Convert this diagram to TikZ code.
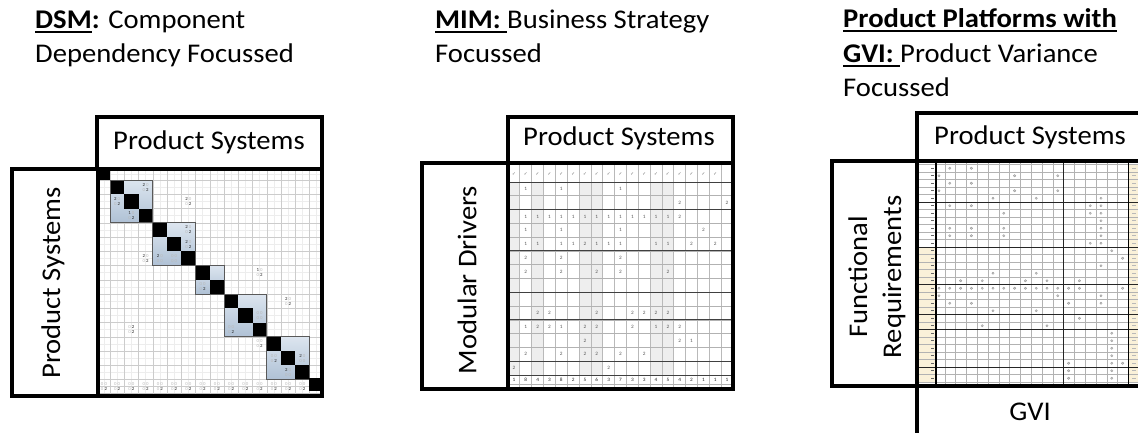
\documentclass[tikz,border=0pt]{standalone}
\usepackage{fontspec}
\setmainfont{Carlito}[FakeStretch=1.06]
\newfontfamily\tickfont{DejaVu Sans}
\usetikzlibrary{positioning}
\definecolor{blocklight}{HTML}{DCE5EF}
\definecolor{blockdark}{HTML}{AFC1D5}
\definecolor{cream}{HTML}{FAF1D9}
\newcommand{\ulbf}[1]{\setbox0\hbox{\textbf{#1}}\rlap{\rule[-4pt]{\wd0}{1.6pt}}\box0}
\newcommand{\dg}[1]{\ifnum#1=0 \textcolor{gray!55}{0}\else\textcolor{black!85}{#1}\fi}
\tikzset{
  heading/.style={anchor=base west, inner sep=0pt, font=\fontsize{27}{34}\selectfont},
  boxlabel/.style={font=\fontsize{27}{34}\selectfont, align=center, inner sep=0pt},
  thickbox/.style={line width=3.3pt},
  dsmnum/.style={font=\fontsize{4.6}{4.8}\selectfont, align=center, inner sep=0pt},
  mimnum/.style={font=\fontsize{5}{6}\selectfont, text=black!65, inner sep=0pt},
  mimtick/.style={font=\tickfont\fontsize{4.5}{5}\selectfont, text=black!60, inner sep=0pt},
}
\begin{document}
\begin{tikzpicture}[x=1pt,y=-1pt]
\useasboundingbox (0,0) rectangle (1138,433);
\clip (0,0) rectangle (1138,433);

% headings
\node[heading] (dsmtitle) at (35,29) {\ulbf{DSM}\textbf{:} Component};
\node[heading] (dsmtitleb) at (35,63) {Dependency Focussed};
\node[heading] (mimtitle) at (435,29) {\ulbf{MIM:\ }Business Strategy};
\node[heading] (mimtitleb) at (435,63) {Focussed};
\node[heading] (gvititle) at (843,28) {\ulbf{Product Platforms with}};
\node[heading] (gvititleb) at (843,63) {\ulbf{GVI:\ }Product Variance};
\node[heading] (gvititlec) at (843,97) {Focussed};

%%% DSM
\def\dx{14.25}
\foreach \i in {0,...,28} {
  \draw[gray!14, line width=0.3pt] ({110+7.125*\i},169) -- ({110+7.125*\i},396);
  \draw[gray!14, line width=0.3pt] (98,{180+7.125*\i}) -- (322,{180+7.125*\i});
}
\draw[gray!14, line width=0.3pt] (104,169) -- (104,396);
\draw[gray!14, line width=0.3pt] (316,169) -- (316,396);
\draw[gray!14, line width=0.3pt] (98,174.5) -- (322,174.5);
\draw[gray!40, line width=0.5pt] (98,386.25) -- (322,386.25);
\draw[gray!50, line width=0.5pt] (98,393) -- (322,393);
\foreach \i in {0,...,14} {
  \draw[gray!40, line width=0.5pt] ({110+\dx*\i},169) -- ({110+\dx*\i},396);
  \draw[gray!40, line width=0.5pt] (98,{180+\dx*\i}) -- (322,{180+\dx*\i});
}
\foreach \s/\n in {0/3,3/3,6/2,8/3,11/3}
  \shade[top color=blocklight, bottom color=blockdark] ({110+\s*\dx},{180+\s*\dx}) rectangle ++({\n*\dx},{\n*\dx});
\foreach \k in {0,...,13}
  \fill ({110+\k*\dx},{180+\k*\dx}) rectangle ++(\dx,\dx);
\foreach \s/\n in {0/3,3/3,6/2,8/3,11/3}
  \draw[black!65, line width=0.8pt] ({110+\s*\dx},{180+\s*\dx}) rectangle ++({\n*\dx},{\n*\dx});
\fill (96,167) rectangle (110,180);
\fill (309,378) rectangle (321,391);
\foreach \cx/\ry/\pa/\pb/\pc/\pd in {2/0/2/0/0/2, 0/1/2/0/0/2, 1/2/1/0/0/2, 5/1/2/0/0/2,
    5/3/2/0/0/2, 5/4/2/0/0/2, 3/5/2/0/0/0, 4/5/0/0/0/0, 2/5/2/0/0/2, 6/7/0/0/0/2,
    10/6/1/0/0/2, 10/9/0/0/0/0, 8/10/0/0/0/2, 12/8/2/0/0/2, 1/10/0/2/0/2,
    10/11/0/0/0/2, 11/12/0/0/0/2, 13/12/2/0/0/0, 12/13/2/0/0/0}
  \node[dsmnum] (dsm-\cx-\ry) at ({110+(\cx+0.5)*\dx},{180+(\ry+0.5)*\dx}) {\dg\pa\ \dg\pb\\\dg\pc\ \dg\pd};
\node[dsmnum] (dsmsum-h) at (104,386.3) {\dg0\ \dg0\\\dg0\ \dg2};
\foreach \k in {0,...,13}
  \node[dsmnum] (dsmsum-\k) at ({110+(\k+0.5)*\dx},386.3) {\dg0\ \dg0\\\dg0\ \dg2};
\draw[thickbox] (97,117) rectangle (322,169);
\draw[thickbox] (12,169) rectangle (98,396);
\draw[thickbox] (98,169) rectangle (322,396);
\node[boxlabel] (dsmtop) at (209,142) {Product Systems};
\node[boxlabel, rotate=90] (dsmleft) at (53,283) {Product Systems};

%%% MIM
\def\mx{11.842}
\def\my{13.79}
\foreach \k in {0,2,6,7,12,13}
  \fill[gray!13] ({508+\k*\mx},182) rectangle ++(\mx,193);
\foreach \k in {1,...,18}
  \draw[gray!55, line width=0.8pt] ({508+\k*\mx},163) -- ({508+\k*\mx},389);
\foreach \j in {0,...,14}
  \draw[gray!60, line width=0.6pt] (508,{182+\j*\my}) -- (733,{182+\j*\my});
\foreach \j in {0,2,5,8,10,13,14}
  \draw[black!75, line width=1pt] (508,{182+\j*\my}) -- (733,{182+\j*\my});
\draw[gray!60, line width=0.6pt] (508,384) -- (733,384);
\foreach \k in {0,...,17}
  \node[mimtick] (tick-\k) at ({508+(\k+0.5)*\mx},174) {✓};
\foreach \ry/\vals in {0/{1/1,4/1,9/1}, 1/{14/2,18/2},
    2/{1/1,2/1,3/1,4/1,5/1,6/1,7/1,8/1,9/1,10/1,11/1,12/1,13/1,14/2},
    3/{1/1,4/1,9/1,16/2},
    4/{1/1,2/1,4/1,5/1,6/2,7/1,8/1,9/1,12/1,13/1,15/2,17/2},
    5/{1/2,4/2,9/2}, 6/{1/2,4/2,7/2,9/2,13/2},
    9/{2/2,3/2,7/2,10/2,11/2,12/2,13/2},
    10/{1/1,2/2,3/2,4/1,6/2,7/2,10/2,12/1,13/2,14/2},
    11/{6/2,14/2,15/1}, 12/{1/2,4/2,6/2,7/2,9/2,11/2}, 13/{0/2,8/2}}
  \foreach \cx/\v in \vals
    \node[mimnum] (mim-\cx-\ry) at ({508+(\cx+0.5)*\mx},{182+(\ry+0.5)*\my}) {\v};
\foreach \v [count=\k from 0] in {1,8,4,3,8,2,5,6,3,7,3,3,4,5,4,2,1,1,1}
  \node[mimnum, text=black!85] (mimsum-\k) at ({508+(\k+0.5)*\mx},379.5) {\v};
\draw[thickbox] (508,117) rectangle (733,163);
\draw[thickbox] (422,163) rectangle (508,389);
\draw[thickbox] (508,163) rectangle (733,389);
\node[boxlabel] (mimtop) at (619,138) {Product Systems};
\node[boxlabel, rotate=90] (mimleft) at (467,280) {Modular Drivers};

%%% GVI
\def\gx{10.8}
\def\gy{7.5}
\fill[cream] (919,247) rectangle (936,382);
\fill[cream] (1128.4,164.5) rectangle (1145,382);
\foreach \j in {0,...,29}
  \draw[gray!60, line width=0.5pt] (919,{164.5+\gy*\j}) -- (1145,{164.5+\gy*\j});
\foreach \k in {1,...,17}
  \draw[gray!60, line width=0.6pt] ({934+\gx*\k},161) -- ({934+\gx*\k},386);
\foreach \j in {5,11,16,20,22,27}
  \draw[black!85, line width=1pt] (919,{164.5+\gy*\j}) -- (1145,{164.5+\gy*\j});
\draw[black!85, line width=1pt] ({934+\gx*12},161) -- ({934+\gx*12},386);
\draw[black, line width=1.3pt] (936,161) -- (936,386);
\draw[black, line width=1.3pt] (1128.4,161) -- (1128.4,386);
\foreach \j in {0,...,28} {
  \draw[black!60, line width=0.7pt] (931,{168.25+\gy*\j}) -- (933.5,{168.25+\gy*\j});
  \fill[gray!55] (1131.5,{167.6+\gy*\j}) rectangle (1135.5,{168.9+\gy*\j});
}
\foreach \ry/\ks in {0/{1,3}, 1/{0,7,11}, 2/{1,3}, 3/{0,7,11}, 4/{5,9,15}, 5/{1,3,14,15},
    6/{6,14,15}, 7/{15}, 8/{1,3,6,15}, 9/{1,3,6,15}, 10/{14,15}, 11/{16}, 12/{17},
    13/{15}, 14/{5,9}, 15/{2,4,8,10,13}, 16/{0,1,2,3,4,5,6,7,8,9,10,11,12,13,17},
    17/{0,11,15}, 18/{1,3,12,15}, 19/{5,9}, 20/{13}, 21/{4,10}, 22/{16}, 23/{16},
    24/{16}, 25/{16}, 26/{12,16,17}, 27/{12,16}, 28/{12,16}}
  \foreach \k in \ks
    \filldraw[fill=gray!40, draw=gray!85, line width=0.3pt] ({939+\gx*\k},{168.25+\gy*\ry}) circle (1.2);
\draw[thickbox] (917,113) rectangle (1145,161);
\draw[thickbox] (832,161) rectangle (917,386);
\draw[thickbox] (917,161) rectangle (1145,386);
\draw[thickbox] (917,386) rectangle (1145,440);
\node[boxlabel] (gvitop) at (1030,137) {Product Systems};
\node[boxlabel, rotate=90] (gvileft) at (877,277) {Functional\\Requirements};
\node[boxlabel] (gvibottom) at (1030,412) {GVI};
\end{tikzpicture}
\end{document}
